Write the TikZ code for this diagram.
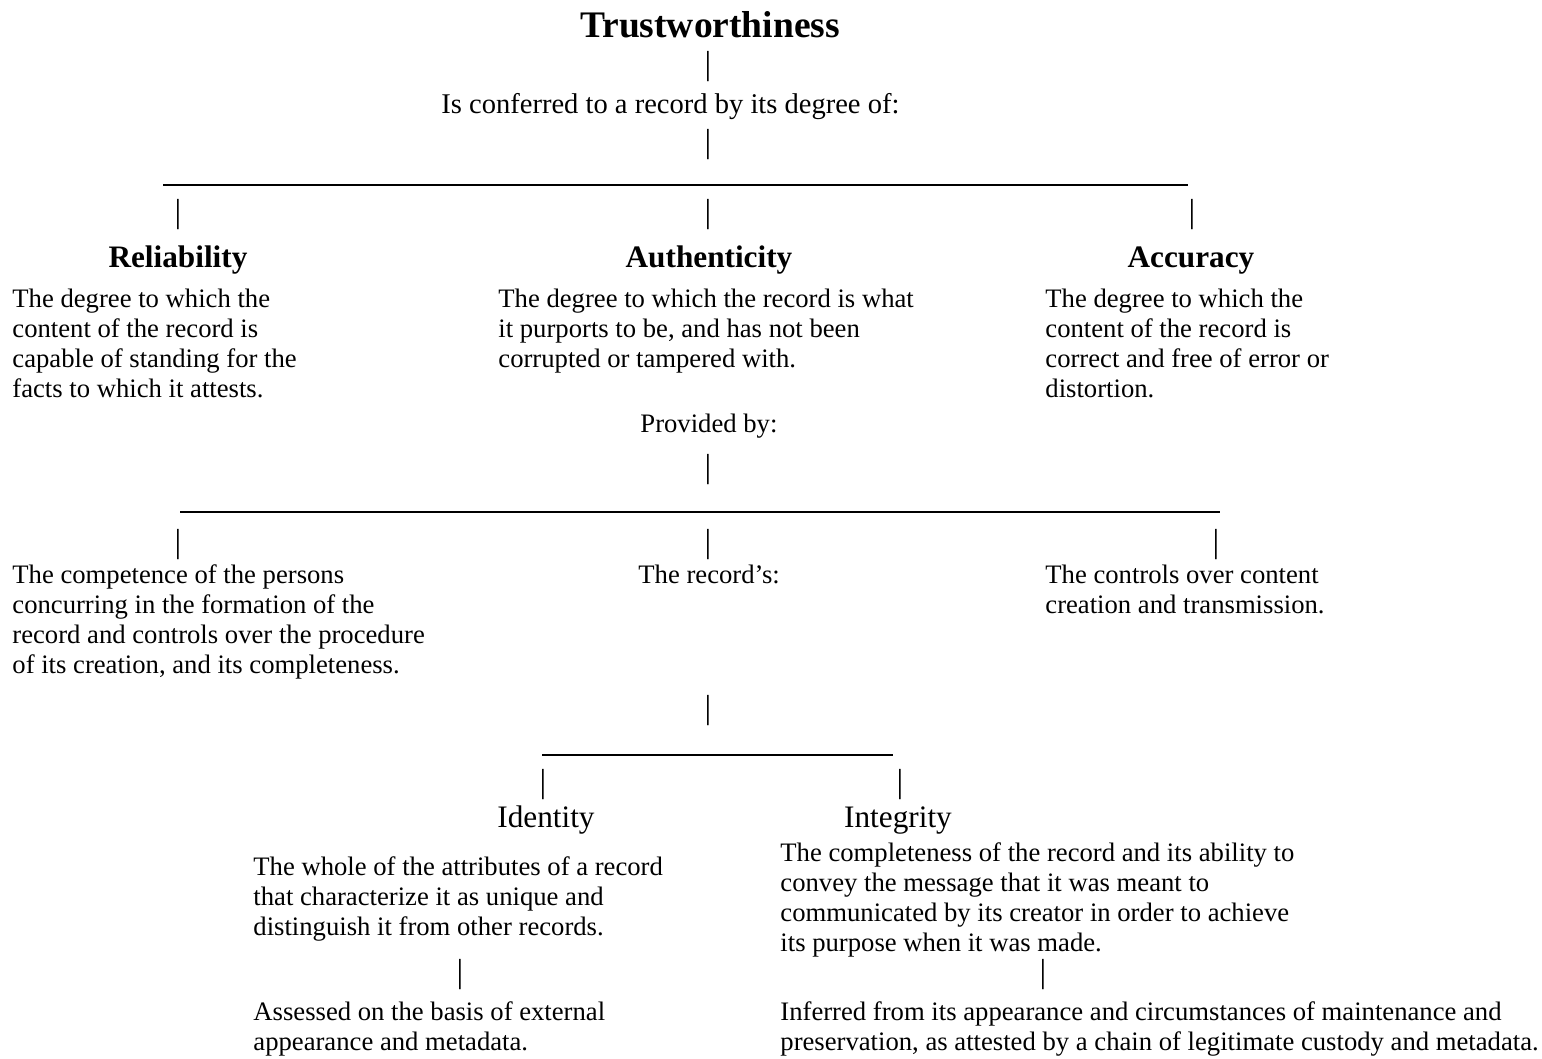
\documentclass[tikz,border=0pt]{standalone}
\usepackage{fontspec}
\setmainfont{Liberation Serif}
\usepackage{tikz}

% multi-line texts are placed by the baseline of their last line
\tikzset{
  body/.style={anchor=base west, inner sep=0pt, align=left, font=\fontsize{12.8}{14.4}\selectfont},
  lead/.style={anchor=base west, inner sep=0pt, font=\fontsize{13.7}{14.4}\selectfont},
  heading/.style={anchor=base, inner sep=0pt, font=\fontsize{15}{18}\selectfont\bfseries},
  subheading/.style={anchor=base, inner sep=0pt, font=\fontsize{15}{18}\selectfont},
  vbar/.style={anchor=base, inner sep=0pt, font=\fontsize{16}{18}\selectfont},
  rule/.style={black, line width=0.7pt},
}

\begin{document}
\begin{tikzpicture}[x=0.48pt,y=-0.48pt]
\useasboundingbox (0,0) rectangle (1542,1058);

% top of the tree
\node[heading, font=\fontsize{18}{21}\selectfont\bfseries] (trust) at (710,37) {Trustworthiness};
\node[vbar] (bar0) at (708,74) {|};
\node[lead] (conf) at (441,113) {Is conferred to a record by its degree of:};
\node[vbar] (bar1) at (708,152) {|};

% first branching
\coordinate (ruleAw) at (163,185);
\coordinate (ruleAe) at (1188,185);
\draw[rule] (ruleAw) -- (ruleAe);
\foreach \x/\n in {178/rel,708/aut,1192/acc} {
  \node[vbar] (bar-\n) at (\x,222) {|};
}

\node[heading] (rel) at (178,267) {Reliability};
\node[heading] (aut) at (709,267) {Authenticity};
\node[heading] (acc) at (1191,267) {Accuracy};

\node[body] (reltxt) at (12,397) {The degree to which the\\content of the record is\\capable of standing for the\\facts to which it attests.};
\node[body] (auttxt) at (498,367) {The degree to which the record is what\\it purports to be, and has not been\\corrupted or tampered with.};
\node[body] (acctxt) at (1045,397) {The degree to which the\\content of the record is\\correct and free of error or\\distortion.};

\node[body] (prov) at (640,432) {Provided by:};
\node[vbar] (bar2) at (708,477) {|};

% second branching
\coordinate (ruleBw) at (180,512);
\coordinate (ruleBe) at (1220,512);
\draw[rule] (ruleBw) -- (ruleBe);
\foreach \x/\n in {178/comp,708/recs,1216/ctrl} {
  \node[vbar] (bar-\n) at (\x,552) {|};
}

\node[body] (comp) at (12,673) {The competence of the persons\\concurring in the formation of the\\record and controls over the procedure\\of its creation, and its completeness.};
\node[body] (recs) at (638,583) {The record’s:};
\node[body] (ctrl) at (1045,613) {The controls over content\\creation and transmission.};

\node[vbar] (bar3) at (708,718) {|};

% third branching
\coordinate (ruleCw) at (542,755);
\coordinate (ruleCe) at (893,755);
\draw[rule] (ruleCw) -- (ruleCe);
\foreach \x/\n in {543/iden,900/inte} {
  \node[vbar] (bar-\n) at (\x,792) {|};
}

\node[subheading] (iden) at (546,827) {Identity};
\node[subheading] (inte) at (898,827) {Integrity};

\node[body] (identxt) at (253,935) {The whole of the attributes of a record\\that characterize it as unique and\\distinguish it from other records.};
\node[body] (intetxt) at (780,951) {The completeness of the record and its ability to\\convey the message that it was meant to\\communicated by its creator in order to achieve\\its purpose when it was made.};

\node[vbar] (bar-ass) at (460,982) {|};
\node[vbar] (bar-inf) at (1043,982) {|};

\node[body] (ass) at (253,1050) {Assessed on the basis of external\\appearance and metadata.};
\node[body] (inf) at (780,1050) {Inferred from its appearance and circumstances of maintenance and\\preservation, as attested by a chain of legitimate custody and metadata.};
\end{tikzpicture}
\end{document}
